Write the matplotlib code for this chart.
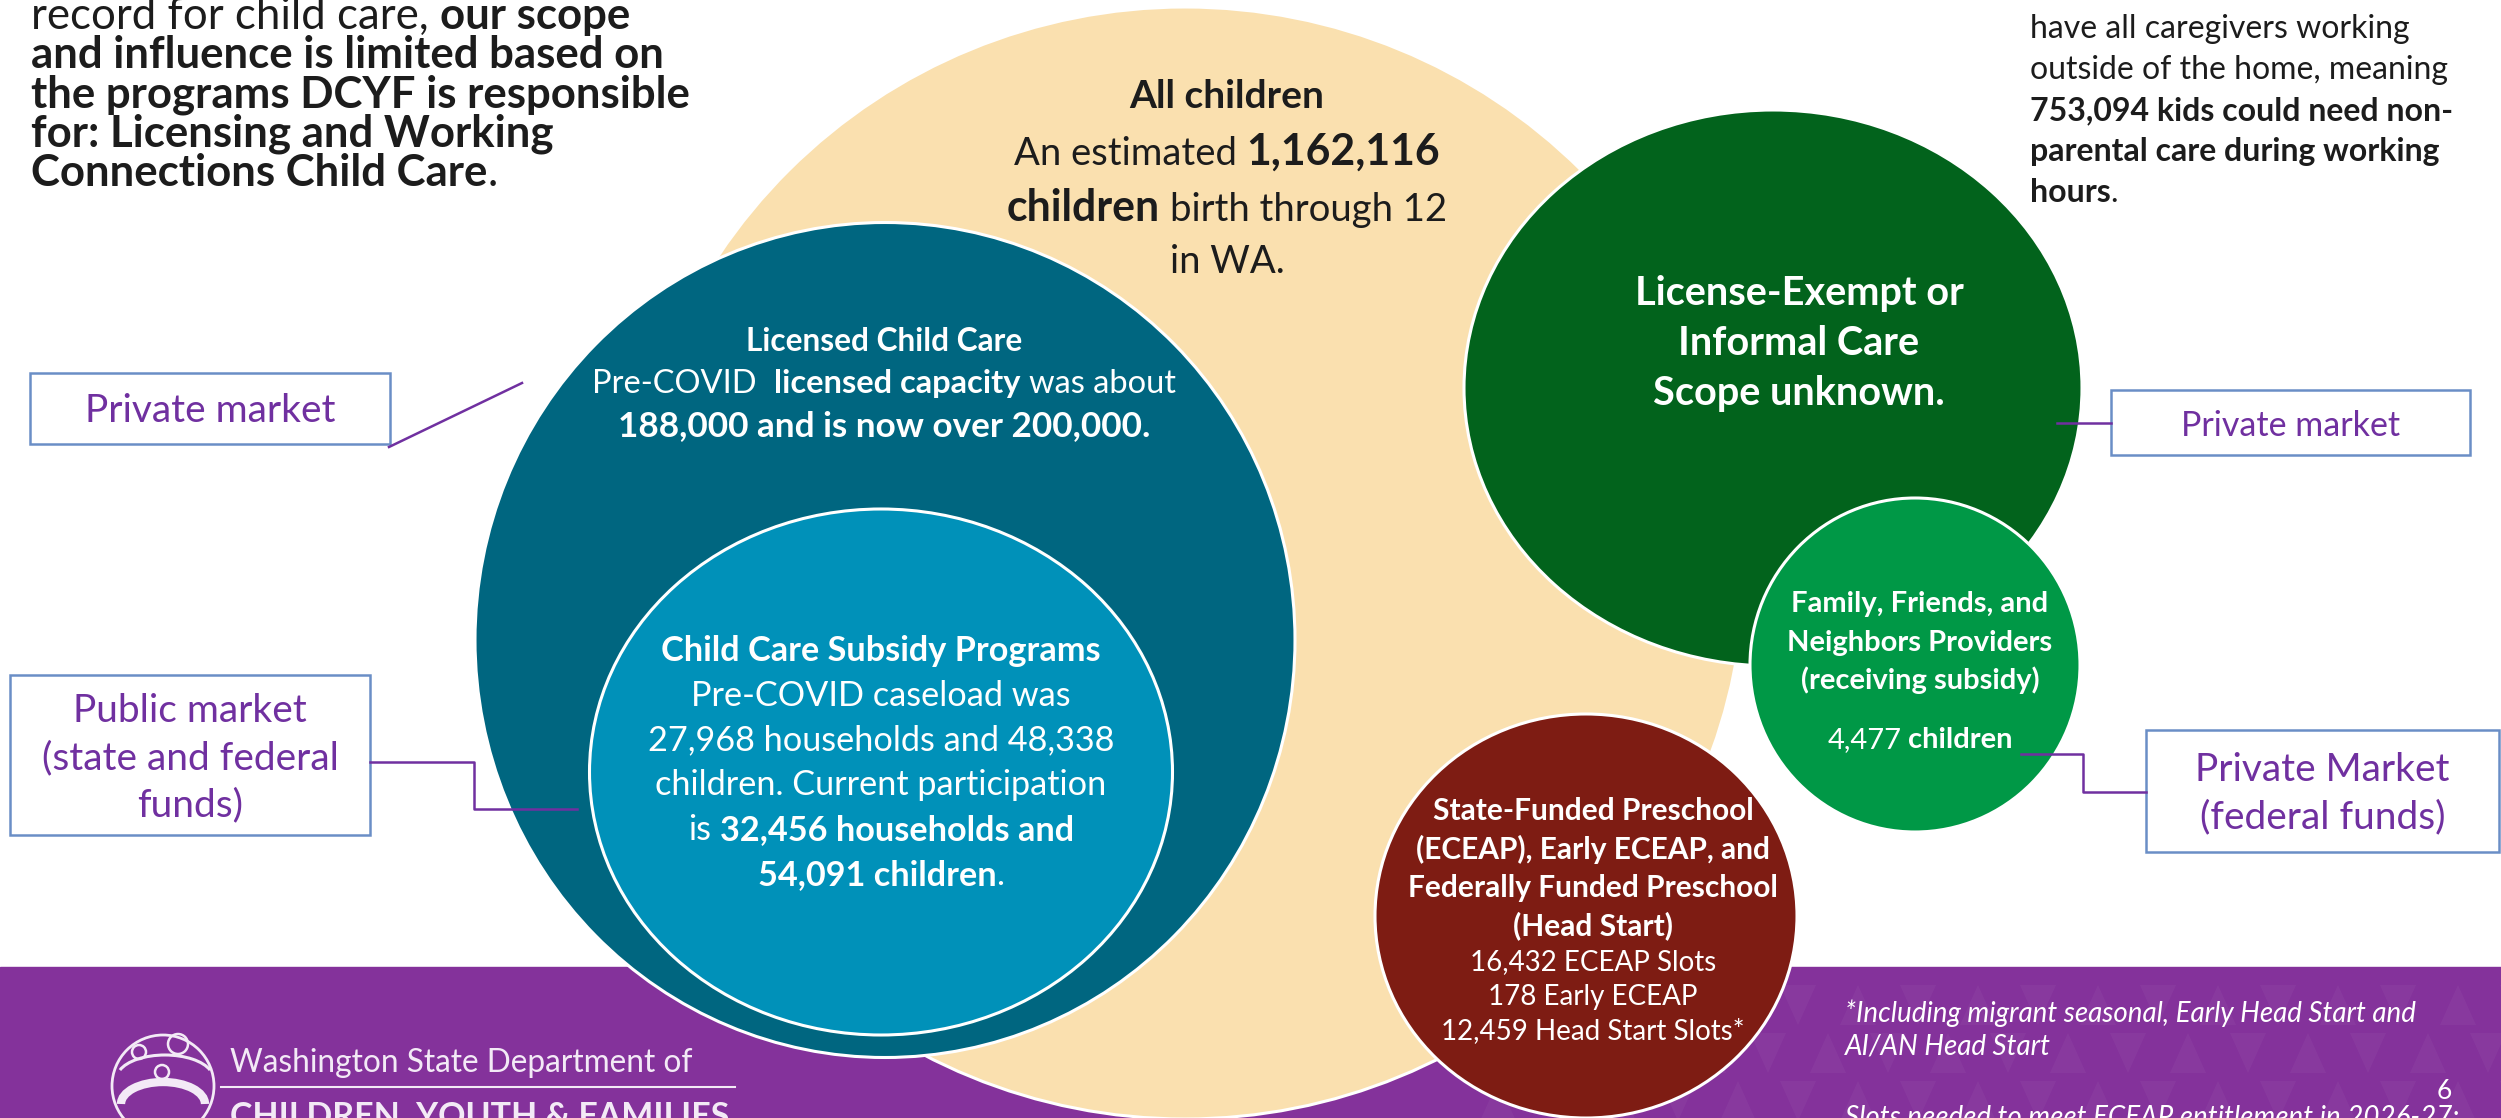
import matplotlib
matplotlib.use('Agg')
import matplotlib.pyplot as plt
from matplotlib.patches import Ellipse, Rectangle, Circle, Arc

# numbers shown in the chart
all_children = 1162116
licensed_capacity = [188000, 200000]      # pre-COVID, now
subsidy_households = [27968, 32456]       # pre-COVID, current
subsidy_children = [48338, 54091]         # pre-COVID, current
ffn_children = 4477
preschool_labels = ['ECEAP Slots', 'Early ECEAP', 'Head Start Slots*']
preschool_slots = [16432, 178, 12459]
working_parent_kids = 753094
market_labels = ['Private market', 'Public market\n(state and federal\nfunds)',
                 'Private market', 'Private Market\n(federal funds)']

FONT = ['Lato', 'DejaVu Sans']
DARK = '#1c1c1c'
PURPLE = '#7030A0'
BOX_EDGE = '#6a8ec6'
Z = 20

W, H = 2501, 1118
fig = plt.figure(figsize=(W / 100, H / 100), dpi=100)
ax = fig.add_axes([0, 0, 1, 1])
ax.set_xlim(0, W)
ax.set_ylim(H, 0)
ax.axis('off')
renderer = fig.canvas.get_renderer()


def fmt(n):
    return f'{n:,}'


def text_width(s, size, weight='normal', style='normal'):
    t = ax.text(0, 0, s, fontsize=size, fontweight=weight, fontstyle=style, family=FONT)
    w = t.get_window_extent(renderer).width
    t.remove()
    return w


def rich_line(x, y, parts, size, color, ha='center', style='normal'):
    """parts: list of (text, weight[, scale]); leading/trailing blanks are kept as gaps"""
    items = []
    for p in parts:
        txt, weight = p[0], p[1]
        sz = size * (p[2] if len(p) > 2 else 1.0)
        sp = text_width('n n', sz, weight, style) - text_width('nn', sz, weight, style)
        lead = (len(txt) - len(txt.lstrip(' '))) * sp
        trail = (len(txt) - len(txt.rstrip(' '))) * sp
        t = ax.text(0, y, txt.strip(' '), fontsize=sz, fontweight=weight, fontstyle=style,
                    color=color, family=FONT, va='baseline', ha='left', zorder=Z + 2)
        w = t.get_window_extent(renderer).width
        items.append((t, lead, w, trail))
    total = sum(l + w + tr for _, l, w, tr in items)
    pos = x - total / 2 if ha == 'center' else x
    for t, l, w, tr in items:
        pos += l
        t.set_x(pos)
        pos += w + tr


# purple footer band with faint triangle pattern
ax.add_patch(Rectangle((0, 967), W, H - 967, color='#84329b', zorder=1))
for row in range(3):
    for col in range(18):
        x0 = 1480 + col * 60 + (row % 2) * 30
        y0 = 985 + row * 48
        up = (col + row) % 2 == 0
        ys = [y0 + 40, y0 + 40, y0] if up else [y0, y0, y0 + 40]
        ax.fill([x0, x0 + 36, x0 + 18], ys, color='#9a56ad', alpha=0.22, lw=0, zorder=1.5)

# circles (ellipses as drawn on the slide)
circles = [
    ((1185, 563), 1120, 1112, '#fae0af'),   # all children
    ((885, 640), 820, 835, '#006680'),      # licensed child care
    ((881, 772), 583, 526, '#0091b9'),      # subsidy programs
    ((1773, 388), 618, 556, '#02631c'),     # license exempt
    ((1915, 665), 330, 334, '#009846'),     # family friends neighbors
    ((1586, 916), 422, 404, '#7e1c13'),     # preschool
]
for i, (c, w, h, col) in enumerate(circles):
    ax.add_patch(Ellipse(c, w, h, facecolor=col, edgecolor='white', lw=2.2, zorder=2 + i))

# top-left paragraph
tl = [
    [('record for child care, ', 'normal'), ('our scope', 'bold')],
    [('and influence is limited based on', 'bold')],
    [('the programs DCYF is responsible', 'bold')],
    [('for: Licensing and Working', 'bold')],
    [('Connections Child Care', 'bold'), ('.', 'normal')],
]
for i, parts in enumerate(tl):
    rich_line(31, 29 + i * 39.3, parts, 31.5, DARK, ha='left')

# top-right paragraph
tr_lines = [
    [('have all caregivers working', 'normal')],
    [('outside of the home, meaning', 'normal')],
    [(f'{fmt(working_parent_kids)} kids could need non-', 'bold')],
    [('parental care during working', 'bold')],
    [('hours', 'bold'), ('.', 'normal')],
]
for i, parts in enumerate(tr_lines):
    rich_line(2030, 38 + i * 41, parts, 23, DARK, ha='left')

# all children
cx = 1227
rich_line(cx, 108, [('All children', 'bold')], 28, DARK)
rich_line(cx, 165, [('An estimated ', 'normal'), (fmt(all_children), 'bold', 1.12)], 27.5, DARK)
rich_line(cx, 221, [('children', 'bold', 1.12), (' birth through 12', 'normal')], 27.5, DARK)
rich_line(cx, 273, [('in WA.', 'normal')], 27.5, DARK)

# licensed child care
cx = 884
rich_line(cx, 351, [('Licensed Child Care', 'bold')], 22.8, 'white')
rich_line(cx, 393, [('Pre-COVID  ', 'normal'), ('licensed capacity', 'bold'), (' was about', 'normal')], 23.5, 'white')
rich_line(cx, 436, [(f'{fmt(licensed_capacity[0])} and is now over {fmt(licensed_capacity[1])}.', 'bold')], 25.3, 'white')

# subsidy programs
cx = 881
sub = [
    [('Child Care Subsidy Programs', 'bold')],
    [('Pre-COVID caseload was', 'normal')],
    [(f'{fmt(subsidy_households[0])} households and {fmt(subsidy_children[0])}', 'normal')],
    [('children. Current participation', 'normal')],
    [('is ', 'normal'), (f'{fmt(subsidy_households[1])} households and', 'bold')],
    [(f'{fmt(subsidy_children[1])} children', 'bold'), ('.', 'normal')],
]
for i, parts in enumerate(sub):
    rich_line(cx, 661 + i * 44.8, parts, 24.7, 'white')

# license exempt
for i, s in enumerate(['License-Exempt or', 'Informal Care', 'Scope unknown.']):
    rich_line(1799, 305 + i * 50, [(s, 'bold')], 28.5, 'white')

# family, friends and neighbors
for i, s in enumerate(['Family, Friends, and', 'Neighbors Providers', '(receiving subsidy)']):
    rich_line(1920, 612 + i * 38.5, [(s, 'bold')], 21, 'white')
rich_line(1920, 748, [(fmt(ffn_children), 'normal'), (' children', 'bold')], 21, 'white')

# preschool
cx = 1593
for i, s in enumerate(['State-Funded Preschool', '(ECEAP), Early ECEAP, and',
                       'Federally Funded Preschool', '(Head Start)']):
    rich_line(cx, 820 + i * 38.5, [(s, 'bold')], 21.5, 'white')
for i, (lab, v) in enumerate(zip(preschool_labels, preschool_slots)):
    rich_line(cx, 970 + i * 34.5, [(f'{fmt(v)} {lab}', 'normal')], 20, 'white')

# market label boxes
boxes = [
    ((30, 373), 360, 71, 28),
    ((10, 675), 360, 160, 28),
    ((2111, 390), 359, 65, 24.5),
    ((2146, 730), 353, 122, 28),
]
for (x0, y0), bw, bh, fs in boxes:
    ax.add_patch(Rectangle((x0, y0), bw, bh, facecolor='white', edgecolor=BOX_EDGE, lw=1.8, zorder=Z))
for lab, ((x0, y0), bw, bh, fs) in zip(market_labels, boxes):
    ax.text(x0 + bw / 2, y0 + bh / 2 + 3, lab, fontsize=fs, color=PURPLE, family=FONT,
            ha='center', va='center', linespacing=1.38, zorder=Z + 1)

# connectors
conn = [
    ([389, 522], [447, 383]),
    ([370, 474, 474, 577], [762, 762, 809, 809]),
    ([2057, 2111], [423, 423]),
    ([2021, 2083, 2083, 2146], [754, 754, 792, 792]),
]
for xs, ys in conn:
    ax.plot(xs, ys, color=PURPLE, lw=1.8, zorder=Z)

# footer: logo and agency name
LOGO = '#f3eaf6'
ax.add_patch(Circle((163, 1086), 51, fill=False, edgecolor=LOGO, lw=2, zorder=Z))
for (hx, hy), r in [((139, 1052), 7), ((178, 1044), 10), ((162, 1072), 7)]:
    ax.add_patch(Circle((hx, hy), r, fill=False, edgecolor=LOGO, lw=1.8, zorder=Z))
ax.add_patch(Arc((165, 1078), 96, 46, theta1=190, theta2=350, color=LOGO, lw=2.2, zorder=Z))
ax.add_patch(Arc((163, 1104), 84, 44, theta1=180, theta2=360, color=LOGO, lw=6, zorder=Z))
ax.text(230, 1072, 'Washington State Department of', fontsize=22.8, color=LOGO,
        family=FONT, va='baseline', ha='left', zorder=Z)
ax.plot([221, 735], [1087, 1087], color=LOGO, lw=1.5, zorder=Z)
ax.text(230, 1126, 'CHILDREN, YOUTH & FAMILIES', fontsize=24.5, fontweight='bold', color=LOGO,
        family=FONT, va='baseline', ha='left', zorder=Z)

# footnotes
rich_line(1845, 1022, [('*Including migrant seasonal, Early Head Start and', 'normal')], 20, 'white',
          ha='left', style='italic')
rich_line(1845, 1055, [('AI/AN Head Start', 'normal')], 20, 'white', ha='left', style='italic')
rich_line(1845, 1126, [('Slots needed to meet ECEAP entitlement in 2026-27:', 'normal')], 20, 'white',
          ha='left', style='italic')
ax.text(2452, 1099, '6', fontsize=19, color='white', family=FONT, ha='right', va='baseline', zorder=Z)

fig.savefig('out.png', dpi=100)
